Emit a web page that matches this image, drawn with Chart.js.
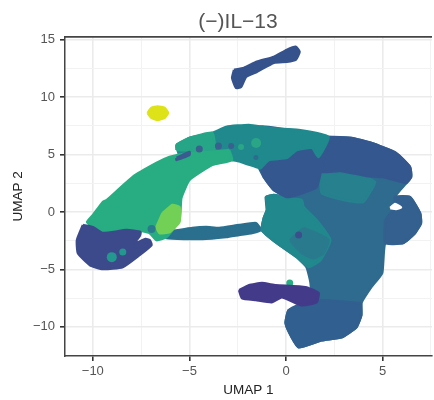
<!DOCTYPE html>
<html>
<head>
<meta charset="utf-8">
<script src="https://cdn.jsdelivr.net/npm/chart.js@4"></script>
<style>
  html, body { margin: 0; padding: 0; background: #fff; }
  canvas { display: block; filter: blur(0.5px); }
  #plotTitle { position: absolute; left: 138px; top: 9px; width: 200px; text-align: center; color: #555; font: 21px/24px "Liberation Sans", sans-serif; filter: blur(0.4px); }
</style>
</head>
<body>
<div id="plotTitle"></div>
<canvas id="umapChart" width="434" height="400"></canvas>
<script>
const titleText = '(\u2212)IL\u221213';

// cluster outlines, in UMAP units
const yellowBlob = [[-7.17,8.61],[-6.96,9.05],[-6.65,9.18],[-6.29,9.05],[-6.11,8.61],[-6.29,8.18],[-6.65,8.0],[-6.96,8.18]];
const topStreak = [[-2.69,12.36],[-2.18,12.53],[-1.51,13.06],[-0.63,13.49],[0.04,14.10],[0.50,14.36],[0.70,13.93],[0.50,13.23],[0.04,13.06],[-0.63,12.97],[-1.51,12.19],[-2.07,11.75],[-2.33,10.88],[-2.59,10.79],[-2.79,11.66]];
const bridge = [[-6.19,-1.75],[-4.85,-1.40],[-4.13,-1.32],[-3.46,-1.40],[-2.43,-1.14],[-1.56,-0.97],[-1.30,-1.58],[-1.76,-1.84],[-2.43,-2.01],[-3.10,-2.19],[-4.34,-2.36],[-6.19,-2.27]];
const body = [[-1.40,3.82],[-1.40,7.39],[-0.22,7.22],[1.01,6.96],[2.20,6.52],[3.38,6.44],[4.41,6.00],[5.69,5.13],[6.41,3.91],[6.47,3.04],[5.90,1.91],[5.64,1.30],[6.41,1.30],[6.93,-0.10],[6.98,-0.97],[6.67,-1.84],[6.05,-2.71],[5.13,-2.71],[4.97,-5.32],[4.41,-6.54],[3.89,-7.94],[3.89,-8.98],[3.64,-10.03],[2.87,-10.90],[1.84,-11.16],[0.65,-11.77],[0.29,-10.90],[-0.02,-9.68],[0.14,-8.55],[1.27,-7.67],[1.27,-6.19],[1.06,-4.80],[0.55,-3.93],[-0.48,-2.71],[-1.25,-1.58],[-1.15,-0.53],[-0.99,0.17],[-1.04,1.30],[-0.63,1.47],[0.04,1.30],[-0.63,1.91],[-1.15,3.04]];
const centerTeal = [[-1.04,1.30],[-0.63,1.47],[0.04,1.21],[0.81,1.04],[0.91,0.43],[1.58,-0.71],[2.29,-2.45],[1.78,-4.19],[1.17,-4.80],[0.55,-3.93],[-0.48,-2.71],[-1.25,-1.58],[-1.15,-0.53],[-0.99,0.17]];
const centerInner = [[0.91,-1.40],[1.58,-1.84],[2.20,-2.45],[1.94,-3.58],[1.42,-4.02],[0.81,-3.58],[0.24,-2.45]];
const midBand = [[1.78,3.39],[2.81,3.48],[4.15,3.04],[4.61,2.60],[3.99,0.86],[2.97,1.04],[1.84,1.66]];
const arcTeal = [[-5.67,5.83],[-5.00,6.44],[-3.82,6.87],[-3.10,7.40],[-1.92,7.57],[-0.89,7.31],[0.65,7.13],[2.20,6.52],[1.68,4.78],[1.34,5.57],[0.55,5.39],[0.04,4.70],[-0.89,4.52],[-1.30,3.82],[-1.40,3.82],[-2.33,4.35],[-2.79,4.52],[-3.98,4.96],[-5.52,4.96]];
const arcGreen = [[-5.67,5.39],[-5.67,5.83],[-5.00,6.44],[-3.82,6.87],[-3.72,5.39]];
const upperRight = [[2.20,6.52],[3.38,6.44],[4.41,6.00],[5.69,5.13],[6.41,3.91],[6.47,3.04],[6.21,2.52],[5.03,3.04],[4.15,3.13],[2.81,3.56],[1.78,3.48],[1.94,4.52],[2.04,5.13]];
const upperMid = [[-1.30,3.82],[-0.89,4.52],[0.04,4.70],[0.55,5.39],[1.34,5.57],[1.68,4.78],[2.20,6.26],[1.78,3.39],[1.58,2.17],[0.55,1.47],[0.04,1.30],[-0.63,1.91],[-1.15,3.04]];
const rightLobe = [[5.13,-0.71],[5.64,0.43],[5.64,1.30],[6.41,1.30],[6.93,-0.10],[6.98,-0.97],[6.67,-1.84],[6.05,-2.71],[5.13,-2.71]];
const lowerBlob = [[3.89,-7.94],[3.89,-8.98],[3.64,-10.03],[2.87,-10.90],[1.84,-11.16],[0.65,-11.77],[0.29,-10.90],[-0.02,-9.68],[0.14,-8.55],[1.27,-7.67]];
const notch = [[5.39,0.34],[5.64,0.69],[5.95,0.39],[5.69,0.25]];
const greenArm = [[-2.95,5.39],[-3.98,5.22],[-5.00,5.13],[-6.03,4.78],[-6.70,4.26],[-7.94,3.04],[-9.27,1.04],[-9.48,0.86],[-9.99,-0.27],[-10.30,-0.88],[-9.99,-1.32],[-9.48,-1.84],[-8.76,-1.58],[-7.73,-1.58],[-7.06,-1.84],[-6.70,-2.45],[-6.19,-2.19],[-5.52,-0.71],[-5.42,1.21],[-5.00,2.78],[-3.82,4.09],[-2.79,4.52]];
const lightGreen = [[-6.39,-0.10],[-5.88,0.60],[-5.52,0.43],[-5.52,-0.88],[-6.03,-1.75],[-6.55,-1.84],[-6.70,-1.32],[-6.55,-0.71]];
const leftBlob = [[-10.51,-1.14],[-10.82,-2.45],[-10.77,-3.58],[-10.15,-4.63],[-9.48,-4.97],[-8.45,-4.80],[-7.58,-3.75],[-6.96,-2.88],[-7.06,-2.45],[-7.27,-2.36],[-7.89,-2.80],[-7.58,-2.10],[-7.53,-1.75],[-8.25,-1.58],[-9.48,-1.84],[-9.99,-1.32]];
const purpleBlob = [[-2.43,-6.80],[-1.92,-6.37],[-1.25,-6.19],[-0.53,-6.37],[1.01,-6.54],[1.68,-7.06],[1.58,-7.85],[0.81,-8.11],[-0.22,-7.41],[-0.74,-7.85],[-1.56,-7.67],[-2.28,-7.50]];
const blueStreak = [[-5.67,4.70],[-5.00,5.22],[-5.00,4.96],[-5.67,4.52]];

// single cells, x y and dot radius
const blueSpots = [[-4.49,5.48,3.5],[-3.50,5.74,3.5],[-2.84,5.74,3]];
const greenSpots = [[-1.55,5.99,5],[-2.33,5.65,3]];
const arcDarkSpot = [[-1.56,4.74,2.5]];
const tealSpots = [[-9.02,-3.93,5],[-8.45,-3.49,3.5]];
const darkTealSpot = [[-6.96,-1.49,4]];
const darkSpot = [[0.65,-2.01,3.5]];
const mintSpot = [[0.19,-6.19,3.5]];

const xTicks = [-10, -5, 0, 5];
const yTicks = [-10, -5, 0, 5, 10, 15];

document.getElementById('plotTitle').textContent = titleText;

function shape(points, color) {
  const closed = points.concat([points[0]]);
  return {
    data: closed.map(p => ({x: p[0], y: p[1]})),
    showLine: true,
    fill: 'shape',
    tension: 0.15,
    backgroundColor: color,
    borderColor: color,
    borderWidth: 2.5,
    borderJoinStyle: 'round',
    pointRadius: 0
  };
}

function spots(points, color) {
  return {
    data: points.map(p => ({x: p[0], y: p[1]})),
    backgroundColor: color,
    borderWidth: 0,
    pointRadius: points.map(p => p[2])
  };
}

// listed bottom layer first, chart.js paints the first dataset on top so it gets reversed
const layers = [
  shape(bridge, '#2a6f8e'),
  shape(body, '#2f6a8f'),
  shape(rightLobe, '#33608e'),
  shape(lowerBlob, '#305f90'),
  shape(centerTeal, '#21888d'),
  shape(centerInner, '#2a7a8e'),
  shape(midBand, '#26808e'),
  shape(upperRight, '#35578f'),
  shape(upperMid, '#35578f'),
  shape(arcTeal, '#20898d'),
  shape(arcGreen, '#27a587'),
  spots(greenSpots, '#2aa585'),
  spots(arcDarkSpot, '#2f6a8f'),
  shape(greenArm, '#27ad81'),
  shape(lightGreen, '#73d056'),
  shape(blueStreak, '#3a5a90'),
  spots(blueSpots, '#3a6090'),
  spots(darkTealSpot, '#2a7a8e'),
  shape(leftBlob, '#3c4a8c'),
  spots(tealSpots, '#23988e'),
  spots(mintSpot, '#27ad81'),
  shape(purpleBlob, '#433a8a'),
  spots(darkSpot, '#3b4f8d'),
  shape(notch, '#ffffff'),
  shape(topStreak, '#35528c'),
  shape(yellowBlob, '#dde318')
];

function tickText(value, list) {
  if (!list.includes(value)) return '';
  return String(value).replace('-', '\u2212');
}

function gridFor(list) {
  return {
    color: c => list.includes(c.tick.value) ? '#ebebeb' : '#f2f2f2',
    lineWidth: c => list.includes(c.tick.value) ? 1.6 : 1,
    tickColor: c => list.includes(c.tick.value) ? '#333333' : 'rgba(0,0,0,0)',
    tickWidth: 1.6,
    tickLength: 5
  };
}

new Chart(document.getElementById('umapChart'), {
  type: 'scatter',
  data: { datasets: layers.reverse() },
  options: {
    responsive: false,
    animation: false,
    layout: { padding: { top: 36.5 }, autoPadding: false },
    plugins: {
      legend: { display: false },
      tooltip: { enabled: false }
    },
    scales: {
      x: {
        min: -11.44,
        max: 7.55,
        grid: gridFor(xTicks),
        border: { color: '#444444', width: 1.5 },
        ticks: {
          stepSize: 2.5,
          includeBounds: false,
          autoSkip: false,
          maxRotation: 0,
          padding: 3,
          color: '#555555',
          font: { family: 'Liberation Sans', size: 13 },
          callback: v => tickText(v, xTicks)
        },
        title: {
          display: true,
          text: 'UMAP 1',
          color: '#222222',
          font: { family: 'Liberation Sans', size: 13.5 },
          padding: { top: 2, bottom: 2 }
        },
        afterFit: s => { s.height = 44; }
      },
      y: {
        min: -12.53,
        max: 15.26,
        grid: gridFor(yTicks),
        border: { color: '#444444', width: 1.5 },
        ticks: {
          stepSize: 2.5,
          includeBounds: false,
          autoSkip: false,
          padding: 5,
          color: '#555555',
          font: { family: 'Liberation Sans', size: 13 },
          callback: v => tickText(v, yTicks)
        },
        title: {
          display: true,
          text: 'UMAP 2',
          color: '#222222',
          font: { family: 'Liberation Sans', size: 13.5 },
          padding: { top: 10, bottom: 0 }
        },
        afterFit: s => { s.width = 65; }
      },
      // only there to draw the top edge of the panel
      top: {
        type: 'linear',
        position: 'top',
        min: -11.44,
        max: 7.55,
        grid: { display: false },
        border: { color: '#444444', width: 1.8 },
        ticks: { display: false },
        afterFit: s => { s.height = 0; }
      }
    }
  }
});
</script>
</body>
</html>
